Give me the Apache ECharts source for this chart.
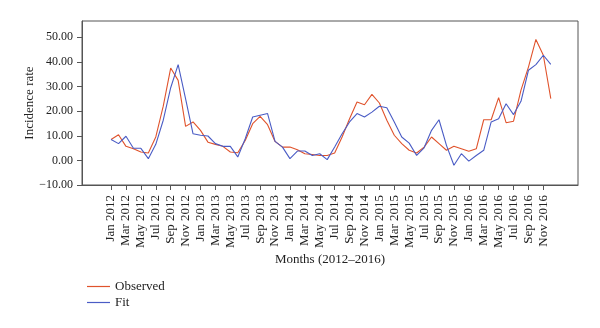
<!DOCTYPE html>
<html>
<head>
<meta charset="utf-8">
<script src="https://cdn.jsdelivr.net/npm/echarts@6/dist/echarts.min.js"></script>
<style>html,body{margin:0;padding:0;background:#fff}#c{width:600px;height:328px}</style>
</head>
<body>
<div id="c"></div>
<script>
const months = ["Jan 2012","Feb 2012","Mar 2012","Apr 2012","May 2012","Jun 2012","Jul 2012","Aug 2012","Sep 2012","Oct 2012","Nov 2012","Dec 2012",
"Jan 2013","Feb 2013","Mar 2013","Apr 2013","May 2013","Jun 2013","Jul 2013","Aug 2013","Sep 2013","Oct 2013","Nov 2013","Dec 2013",
"Jan 2014","Feb 2014","Mar 2014","Apr 2014","May 2014","Jun 2014","Jul 2014","Aug 2014","Sep 2014","Oct 2014","Nov 2014","Dec 2014",
"Jan 2015","Feb 2015","Mar 2015","Apr 2015","May 2015","Jun 2015","Jul 2015","Aug 2015","Sep 2015","Oct 2015","Nov 2015","Dec 2015",
"Jan 2016","Feb 2016","Mar 2016","Apr 2016","May 2016","Jun 2016","Jul 2016","Aug 2016","Sep 2016","Oct 2016","Nov 2016","Dec 2016"];
const observed = [8.5,10.4,5.7,4.7,3.4,3.0,9.5,22.0,37.5,32.5,13.8,15.6,
12.2,7.4,6.5,5.7,3.4,3.1,8.1,14.9,17.9,14.5,7.7,5.4,
5.4,4.3,2.7,2.4,2.0,2.0,3.0,9.5,16.9,23.7,22.6,26.8,
23.3,16.3,10.2,6.8,4.1,3.0,5.4,9.5,6.8,4.1,5.7,4.7,
3.7,4.7,16.5,16.5,25.5,15.3,15.9,28.5,37.9,49.1,42.7,25.1];
const fit = [8.5,6.8,9.8,4.9,4.9,0.7,6.5,16.3,29.5,38.9,25.0,10.8,
10.2,9.9,6.8,5.7,5.7,1.4,8.8,17.6,18.3,19.0,7.7,5.4,
0.7,3.8,3.8,2.0,2.7,0.3,5.4,10.8,15.6,19.0,17.6,19.6,
22.0,21.4,15.6,9.5,7.0,2.0,5.1,12.2,16.5,6.1,-2.0,2.7,
-0.3,2.0,4.1,15.6,16.9,23.0,18.6,24.0,36.6,38.9,42.7,39.0];
const yTicks = [-10,0,10,20,30,40,50];
const seriesNames = ["Observed","Fit"];

const xTicks = months.map((m,i)=>i).filter(i=>i%2===0);
const font = "'Liberation Serif', 'DejaVu Serif', serif";
const chart = echarts.init(document.getElementById('c'));
chart.setOption({
  animation:false,
  backgroundColor:'#fff',
  grid:{left:82,right:22,top:21,bottom:143,show:true,borderColor:'#555',borderWidth:1,containLabel:false},
  legend:{
    data:seriesNames, orient:'vertical', left:82, top:275, icon:'rect', itemWidth:23, itemHeight:1.2, itemGap:3,
    textStyle:{fontFamily:font,fontSize:13,color:'#222'}
  },
  xAxis:{
    type:'value', min:-3.9, max:62.65,
    name:'Months (2012–2016)', nameLocation:'middle', nameGap:68, nameMoveOverlap:false,
    nameTextStyle:{fontFamily:font,fontSize:13,color:'#222'},
    axisLine:{show:true,onZero:false,lineStyle:{color:'#555',width:1}},
    axisTick:{show:true,length:5,customValues:xTicks,lineStyle:{color:'#555'}},
    axisLabel:{rotate:90,margin:10,customValues:xTicks,fontFamily:font,fontSize:13,color:'#222',
      formatter:v=>months[Math.round(v)]||''},
    splitLine:{show:false}
  },
  yAxis:{
    type:'value', min:-10, max:56.6,
    name:'Incidence rate', nameLocation:'middle', nameGap:46, nameMoveOverlap:false,
    nameTextStyle:{fontFamily:font,fontSize:13,color:'#222'},
    axisLine:{show:true,onZero:false,lineStyle:{color:'#555',width:1}},
    axisTick:{show:true,length:5,customValues:yTicks,lineStyle:{color:'#555'}},
    axisLabel:{customValues:yTicks,margin:9,fontFamily:font,fontSize:12,color:'#222',
      formatter:v=>v.toFixed(2).replace('-','\u2212')},
    splitLine:{show:false}
  },
  series:[
    {name:seriesNames[0],type:'line',symbol:'none',data:observed.map((v,i)=>[i,v]),
     lineStyle:{color:'#e0532c',width:1.1},itemStyle:{color:'#e0532c'}},
    {name:seriesNames[1],type:'line',symbol:'none',data:fit.map((v,i)=>[i,v]),
     lineStyle:{color:'#4a5cc5',width:1.1},itemStyle:{color:'#4a5cc5'}}
  ]
});
</script>
</body>
</html>
